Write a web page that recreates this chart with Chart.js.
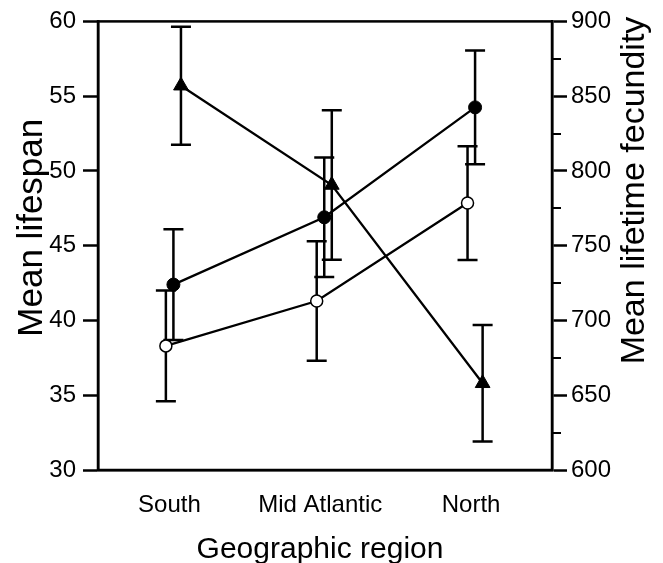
<!DOCTYPE html>
<html>
<head>
<meta charset="utf-8">
<script src="https://cdn.jsdelivr.net/npm/chart.js@4/dist/chart.umd.min.js"></script>
<style>
  html, body { margin: 0; padding: 0; background: #fff; }
  canvas { display: block; }
</style>
</head>
<body>
<canvas id="c" width="663" height="563"></canvas>
<script>
// ---- data ----
const categories = ['South', 'Mid Atlantic', 'North'];
const categoryPos = [1, 2, 3];
const lifespanFilled = [42.4, 46.9, 54.25];
const lifespanFilledErr = [3.7, 4.0, 3.8];
const lifespanOpen = [38.3, 41.3, 47.85];
const lifespanOpenErr = [3.7, 4.0, 3.8];
const fecundity = [857, 790.6, 658];
const fecundityErr = [39.5, 50, 39];
const leftTicks = [30, 35, 40, 45, 50, 55, 60];
const rightTicks = [600, 650, 700, 750, 800, 850, 900];
const rightMinorTicks = [625, 675, 725, 775, 825, 875];

const DODGE = 0.05;
const FONT = "'Liberation Sans', Arial, Helvetica, sans-serif";

function pts(values, shift) {
  return values.map((v, i) => ({ x: categoryPos[i] + shift, y: v }));
}

const errorBarPlugin = {
  id: 'errorBars',
  beforeDatasetsDraw(chart) {
    const ctx = chart.ctx;
    chart.data.datasets.forEach((ds) => {
      if (!ds.errors) return;
      const xs = chart.scales.x;
      const ys = chart.scales[ds.yAxisID];
      ctx.save();
      ctx.strokeStyle = '#000';
      ctx.lineWidth = 2.5;
      ds.data.forEach((p, i) => {
        const e = ds.errors[i];
        const x = xs.getPixelForValue(p.x);
        const yt = ys.getPixelForValue(p.y + e);
        const yb = ys.getPixelForValue(p.y - e);
        ctx.beginPath();
        ctx.moveTo(x, yt); ctx.lineTo(x, yb);
        ctx.moveTo(x - 10, yt); ctx.lineTo(x + 10, yt);
        ctx.moveTo(x - 10, yb); ctx.lineTo(x + 10, yb);
        ctx.stroke();
      });
      ctx.restore();
    });
  }
};

const framePlugin = {
  id: 'frame',
  afterDraw(chart) {
    const ctx = chart.ctx;
    const a = chart.chartArea;
    const r = chart.scales.y2;
    ctx.save();
    ctx.strokeStyle = '#000';
    ctx.lineWidth = 2.5;
    ctx.strokeRect(a.left, a.top, a.right - a.left, a.bottom - a.top);
    // minor ticks on right axis
    ctx.lineWidth = 2;
    ctx.beginPath();
    rightMinorTicks.forEach(v => {
      const y = Math.round(r.getPixelForValue(v));
      ctx.moveTo(a.right, y); ctx.lineTo(a.right + 9, y);
    });
    ctx.stroke();

    // axis titles
    ctx.fillStyle = '#000';
    ctx.textAlign = 'center';
    ctx.textBaseline = 'alphabetic';
    ctx.font = '30px ' + FONT;
    ctx.fillText('Geographic region', (a.left + a.right) / 2 - 5, 558);

    ctx.save();
    ctx.translate(42, (a.top + a.bottom) / 2 - 18);
    ctx.rotate(-Math.PI / 2);
    ctx.font = '35px ' + FONT;
    ctx.fillText('Mean lifespan', 0, 0);
    ctx.restore();

    ctx.save();
    ctx.translate(644, 190.5);
    ctx.rotate(-Math.PI / 2);
    ctx.font = '34px ' + FONT;
    ctx.fillText('Mean lifetime fecundity', 0, 0);
    ctx.restore();

    ctx.restore();
  }
};

const axisStyle = {
  grid: { drawOnChartArea: false, drawTicks: true, tickLength: 15, tickColor: '#000', tickWidth: 2.5, color: '#000' },
  border: { display: true, color: '#000', width: 2.5 },
};

new Chart(document.getElementById('c'), {
  type: 'line',
  data: {
    datasets: [
      {
        label: 'Mean lifespan (open)',
        data: pts(lifespanOpen, -DODGE),
        errors: lifespanOpenErr,
        yAxisID: 'y',
        borderColor: '#000', borderWidth: 2.3,
        pointStyle: 'circle', pointRadius: 6, pointBorderWidth: 1.5,
        pointBackgroundColor: '#fff', pointBorderColor: '#000',
        fill: false, tension: 0
      },
      {
        label: 'Mean lifespan (filled)',
        data: pts(lifespanFilled, 0),
        errors: lifespanFilledErr,
        yAxisID: 'y',
        borderColor: '#000', borderWidth: 2.3,
        pointStyle: 'circle', pointRadius: 6.5, pointBorderWidth: 1,
        pointBackgroundColor: '#000', pointBorderColor: '#000',
        fill: false, tension: 0
      },
      {
        label: 'Mean lifetime fecundity',
        data: pts(fecundity, DODGE),
        errors: fecundityErr,
        yAxisID: 'y2',
        borderColor: '#000', borderWidth: 2.3,
        pointStyle: 'triangle', pointRadius: 8.5, pointBorderWidth: 1,
        pointBackgroundColor: '#000', pointBorderColor: '#000',
        fill: false, tension: 0
      }
    ]
  },
  options: {
    responsive: false,
    animation: false,
    devicePixelRatio: 1,
    layout: { padding: { top: 19, left: 0, right: 0, bottom: 0 } },
    plugins: { legend: { display: false }, tooltip: { enabled: false }, title: { display: false } },
    scales: {
      x: {
        type: 'linear',
        position: 'bottom',
        min: 0.5, max: 3.51,
        afterBuildTicks(scale) { scale.ticks = categoryPos.map(v => ({ value: v })); },
        ticks: {
          color: '#000', font: { family: FONT, size: 24 }, padding: 21, maxRotation: 0, autoSkip: false,
          labelOffset: -4,
          callback(value) { const i = categoryPos.indexOf(value); return i >= 0 ? categories[i] : ''; }
        },
        grid: { display: false, drawTicks: false },
        border: { display: true, color: '#000', width: 2.5 },
        afterFit(scale) { scale.height = 93; }
      },
      y: {
        type: 'linear',
        position: 'left',
        min: 30, max: 60,
        afterBuildTicks(scale) { scale.ticks = leftTicks.map(v => ({ value: v })); },
        ticks: { color: '#000', font: { family: FONT, size: 24 }, padding: 7 },
        ...axisStyle,
        afterFit(scale) { scale.width = 98; }
      },
      y2: {
        type: 'linear',
        position: 'right',
        min: 600, max: 900,
        afterBuildTicks(scale) { scale.ticks = rightTicks.map(v => ({ value: v })); },
        ticks: { color: '#000', font: { family: FONT, size: 24 }, padding: 4 },
        ...axisStyle,
        afterFit(scale) { scale.width = 111; }
      }
    }
  },
  plugins: [errorBarPlugin, framePlugin]
});
</script>
</body>
</html>
